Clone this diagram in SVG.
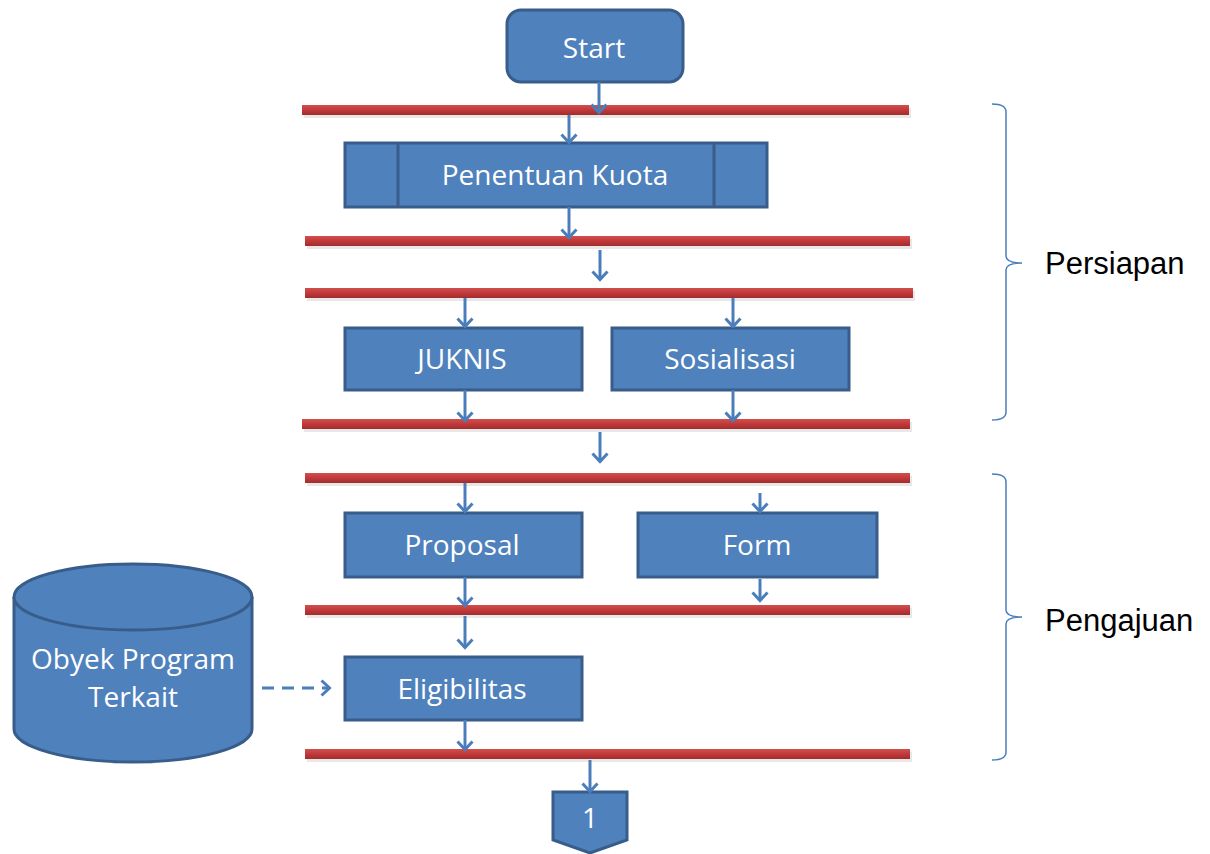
<svg xmlns="http://www.w3.org/2000/svg" width="1210" height="854" viewBox="0 0 1210 854">
<style>
.box{fill:#4f81bd;stroke:#385d8a;stroke-width:3}
.lbl{font-family:"Open Sans","Noto Sans",sans-serif;font-size:28px;fill:#ffffff;text-anchor:middle}
.side{font-family:"Liberation Sans",Arial,sans-serif;font-size:31px;fill:#000000}
.arr{stroke:#4a7ebb;stroke-width:3;fill:none;marker-end:url(#ah)}
.brace{stroke:#4a7ebb;stroke-width:1.5;fill:none}
</style>
<defs>
<linearGradient id="rg" x1="0" y1="0" x2="0" y2="1">
<stop offset="0" stop-color="#d24f4c"/>
<stop offset="0.5" stop-color="#c0393b"/>
<stop offset="1" stop-color="#a22c2b"/>
</linearGradient>
<marker id="ah" viewBox="0 0 12 18" refX="10.5" refY="9" markerWidth="12" markerHeight="18" markerUnits="userSpaceOnUse" orient="auto">
<path d="M2,1.5 L10,9 L2,16.5" fill="none" stroke="#4a7ebb" stroke-width="3"/>
</marker>
</defs>
<rect width="1210" height="854" fill="#ffffff"/>

<g id="bars">
<rect x="304" y="108" width="607" height="10" fill="#d8d8d8" opacity="0.6"/>
<rect x="302" y="105" width="607" height="10" fill="url(#rg)"/>
<rect x="307" y="239" width="605" height="10" fill="#d8d8d8" opacity="0.6"/>
<rect x="305" y="236" width="605" height="10" fill="url(#rg)"/>
<rect x="307" y="291" width="608" height="10" fill="#d8d8d8" opacity="0.6"/>
<rect x="305" y="288" width="608" height="10" fill="url(#rg)"/>
<rect x="304" y="422" width="608" height="10" fill="#d8d8d8" opacity="0.6"/>
<rect x="302" y="419" width="608" height="10" fill="url(#rg)"/>
<rect x="307" y="476" width="605" height="10" fill="#d8d8d8" opacity="0.6"/>
<rect x="305" y="473" width="605" height="10" fill="url(#rg)"/>
<rect x="307" y="608" width="605" height="10" fill="#d8d8d8" opacity="0.6"/>
<rect x="305" y="605" width="605" height="10" fill="url(#rg)"/>
<rect x="307" y="752" width="605" height="10" fill="#d8d8d8" opacity="0.6"/>
<rect x="305" y="749" width="605" height="10" fill="url(#rg)"/>
</g>

<g id="start">
<rect class="box" x="507" y="10" width="176" height="72" rx="14"/>
<text class="lbl" x="594" y="58" font-size="33">Start</text>
</g>
<g id="penentuan-kuota">
<rect class="box" x="345" y="143" width="422" height="64"/>
<line x1="398" y1="143" x2="398" y2="207" stroke="#385d8a" stroke-width="3"/>
<line x1="714" y1="143" x2="714" y2="207" stroke="#385d8a" stroke-width="3"/>
<text class="lbl" x="555" y="185">Penentuan Kuota</text>
</g>
<g id="juknis">
<rect class="box" x="345" y="328" width="237" height="62"/>
<text class="lbl" x="462" y="369">JUKNIS</text>
</g>
<g id="sosialisasi">
<rect class="box" x="612" y="328" width="237" height="62"/>
<text class="lbl" x="730" y="369">Sosialisasi</text>
</g>
<g id="proposal">
<rect class="box" x="345" y="513" width="237" height="64"/>
<text class="lbl" x="462" y="555">Proposal</text>
</g>
<g id="form">
<rect class="box" x="638" y="513" width="239" height="64"/>
<text class="lbl" x="757" y="555">Form</text>
</g>
<g id="eligibilitas">
<rect class="box" x="345" y="657" width="237" height="63"/>
<text class="lbl" x="462" y="699">Eligibilitas</text>
</g>
<g id="obyek-program-terkait">
<path class="box" d="M14,597 L14,729 A119,33 0 0 0 252,729 L252,597"/>
<ellipse class="box" cx="133" cy="597" rx="119" ry="33"/>
<text class="lbl" x="133" y="669">Obyek Program</text>
<text class="lbl" x="133" y="707">Terkait</text>
</g>
<g id="connector-1">
<path class="box" d="M553,792 L627,792 L627,840 L590,853 L553,840 Z"/>
<text class="lbl" x="590" y="828">1</text>
</g>

<g id="connectors">
<line class="arr" x1="599" y1="82" x2="599" y2="113"/>
<line class="arr" x1="569" y1="115" x2="569" y2="143"/>
<line class="arr" x1="569" y1="207" x2="569" y2="238"/>
<line class="arr" x1="600" y1="250" x2="600" y2="280"/>
<line class="arr" x1="465" y1="298" x2="465" y2="327"/>
<line class="arr" x1="733" y1="298" x2="733" y2="327"/>
<line class="arr" x1="465" y1="390" x2="465" y2="421"/>
<line class="arr" x1="733" y1="390" x2="733" y2="421"/>
<line class="arr" x1="600" y1="432" x2="600" y2="462"/>
<line class="arr" x1="465" y1="483" x2="465" y2="512"/>
<line class="arr" x1="760" y1="493" x2="760" y2="512"/>
<line class="arr" x1="465" y1="577" x2="465" y2="606"/>
<line class="arr" x1="760" y1="579" x2="760" y2="601"/>
<line class="arr" x1="465" y1="616" x2="465" y2="648"/>
<line class="arr" x1="465" y1="720" x2="465" y2="750"/>
<line class="arr" x1="590" y1="760" x2="590" y2="792"/>
<line x1="262" y1="688" x2="330" y2="688" stroke="#4a7ebb" stroke-width="3" stroke-dasharray="12,8" marker-end="url(#ah)"/>
</g>

<g id="persiapan">
<path class="brace" d="M992,104 Q1006,104 1006,112 L1006,256 Q1006,263 1022,263 Q1006,263 1006,270 L1006,412 Q1006,420 992,420"/>
<text class="side" x="1045" y="274">Persiapan</text>
</g>
<g id="pengajuan">
<path class="brace" d="M992,474 Q1006,474 1006,482 L1006,610 Q1006,617 1022,617 Q1006,617 1006,624 L1006,752 Q1006,760 992,760"/>
<text class="side" x="1045" y="631">Pengajuan</text>
</g>
</svg>
